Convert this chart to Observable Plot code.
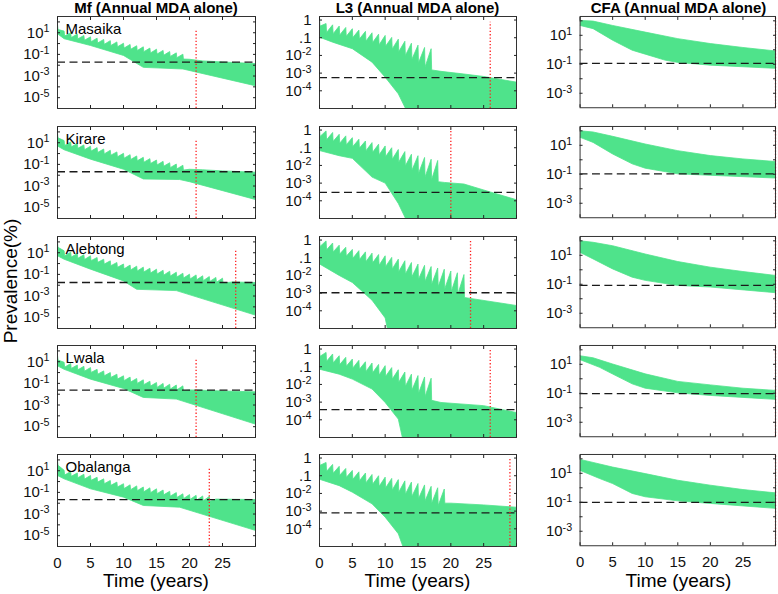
<!DOCTYPE html>
<html><head><meta charset="utf-8">
<script src="https://cdn.jsdelivr.net/npm/d3@7"></script>
<script src="https://cdn.jsdelivr.net/npm/@observablehq/plot@0.6"></script>
<style>
html,body{margin:0;padding:0;background:#fff;}
body{width:778px;height:594px;overflow:hidden;position:relative;font-family:"Liberation Sans",Arial,sans-serif;}
.lbl{position:absolute;white-space:nowrap;color:#000;line-height:1;}
.cell{position:absolute;}
</style></head><body>
<script>
// ---------------- data (log10 of prevalence % unless noted) ----------------
const sites = ["Masaika", "Kirare", "Alebtong", "Lwala", "Obalanga"];
const columnTitles = ["Mf (Annual MDA alone)", "L3 (Annual MDA alone)", "CFA (Annual MDA alone)"];
const xLabel = "Time (years)";
const yLabel = "Prevalence(%)";
const xTicks = [0, 5, 10, 15, 20, 25, 30];
const xTickLabels = ["0", "5", "10", "15", "20", "25", ""];

const mfDomain = [-6, 2.5];
const mfTicks = [2, 1, 0, -1, -2, -3, -4, -5];
const mfTickLabels = ["", "10^1", "", "10^-1", "", "10^-3", "", "10^-5"];
const l3Domain = [-5, 0.2];
const l3Ticks = [0, -1, -2, -3, -4];
const l3TickLabels = ["1", ".1", "10^-2", "10^-3", "10^-4"];
const cfaDomain = [-4, 2.3];
const cfaTicks = [2, 1, 0, -1, -2, -3];
const cfaTickLabels = ["", "10^1", "", "10^-1", "", "10^-3"];

// Mf: annual pre-MDA peaks (upper edge of the trajectory band), tooth depth, post-MDA upper edge, lower edge
const mfPeaks = [
  [1.75,1.15,1.0,0.88,0.75,0.62,0.5,0.38,0.27,0.15,0.03,-0.08,-0.2,-0.3,-0.42,-0.52,-0.63,-0.74,-0.86,-0.98],
  [1.9,1.2,1.07,0.93,0.8,0.68,0.55,0.42,0.3,0.15,0.02,-0.1,-0.22,-0.35,-0.47,-0.6,-0.72,-0.85,-0.97,-1.08],
  [1.95,1.18,1.05,0.93,0.82,0.72,0.56,0.4,0.25,0.1,-0.04,-0.14,-0.24,-0.33,-0.43,-0.52,-0.62,-0.71,-0.8,-0.89,-0.98,-1.05,-1.13,-1.2,-1.28,-1.35],
  [1.6,0.95,0.83,0.7,0.58,0.46,0.3,0.15,0.0,-0.15,-0.3,-0.42,-0.55,-0.67,-0.8,-0.92,-1.0,-1.08,-1.15,-1.23],
  [1.95,1.05,0.93,0.8,0.68,0.56,0.4,0.25,0.1,-0.05,-0.2,-0.3,-0.4,-0.5,-0.58,-0.67,-0.78,-0.9,-1.02,-1.13,-1.2,-1.27,-1.33,-1.38]
];
const mfToothDepth = [
  [0.45,0.45,0.45,0.45,0.45,0.45,0.45,0.45,0.45,0.45,0.45,0.45,0.45,0.45,0.45,0.45,0.45,0.45,0.45,0.45],
  [0.45,0.45,0.45,0.45,0.45,0.45,0.45,0.45,0.45,0.45,0.45,0.45,0.45,0.45,0.45,0.45,0.45,0.45,0.45,0.45],
  [0.45,0.45,0.45,0.45,0.45,0.45,0.45,0.45,0.45,0.45,0.45,0.45,0.45,0.45,0.45,0.45,0.45,0.45,0.45,0.45,0.45,0.45,0.45,0.45,0.45,0.45],
  [0.45,0.45,0.45,0.45,0.45,0.45,0.45,0.45,0.45,0.45,0.45,0.45,0.45,0.45,0.45,0.45,0.45,0.45,0.45,0.45],
  [0.45,0.45,0.45,0.45,0.45,0.45,0.45,0.45,0.45,0.45,0.45,0.45,0.45,0.45,0.45,0.45,0.45,0.45,0.45,0.45,0.45,0.45,0.45,0.45]
];
const mfTail = [
  [[20,-1.45],[22,-1.6],[25,-1.7],[30,-1.85]],
  [[20,-1.45],[22,-1.5],[25,-1.6],[30,-1.72]],
  [[26.5,-1.7],[30,-1.75]],
  [[20,-1.6],[25,-1.7],[30,-1.78]],
  [[24,-1.62],[30,-1.66]]
];
const mfLower = [
  [[0,0.9],[1,0.45],[5,-0.18],[10,-1.1],[13,-2.2],[19,-2.35],[30,-3.9]],
  [[0,0.7],[1,0.35],[5,-0.52],[10,-1.45],[13,-2.35],[18.5,-2.4],[20,-2.6],[30,-4.25]],
  [[0,0.72],[1,0.4],[5,-0.52],[10,-1.6],[12,-2.38],[18,-2.5],[30,-4.77]],
  [[0,0.62],[1,0.3],[5,-0.61],[10,-1.47],[13,-2.3],[18,-2.45],[30,-4.77]],
  [[0,0.56],[1,0.25],[5,-0.67],[10,-1.44],[13,-2.21],[18.5,-2.37],[30,-4.52]]
];
const mfThreshold = [-1.72, -1.68, -1.75, -1.63, -1.66];
const mfStopYear = [21, 21, 27, 21, 23];
const mfStopTop = [1.2, 1.18, 1.33, 1.23, 1.33];

// L3
const l3Peaks = [
  [0.16,-0.2,-0.27,-0.34,-0.42,-0.49,-0.57,-0.64,-0.72,-0.8,-0.87,-0.98,-1.08,-1.2,-1.31,-1.42,-1.55,-1.62],
  [0.14,-0.05,-0.14,-0.24,-0.33,-0.43,-0.52,-0.62,-0.71,-0.8,-0.9,-1.0,-1.1,-1.22,-1.37,-1.45,-1.55,-1.65,-1.72],
  [0.14,-0.05,-0.17,-0.29,-0.41,-0.53,-0.6,-0.67,-0.74,-0.82,-0.89,-0.98,-1.08,-1.17,-1.27,-1.36,-1.43,-1.5,-1.58,-1.65,-1.75,-1.85,-1.95],
  [0.09,-0.19,-0.28,-0.38,-0.47,-0.57,-0.64,-0.72,-0.79,-0.87,-0.94,-1.05,-1.17,-1.3,-1.42,-1.5,-1.58,-1.65],
  [0.09,-0.25,-0.36,-0.47,-0.59,-0.7,-0.78,-0.85,-0.93,-1.0,-1.08,-1.15,-1.22,-1.29,-1.36,-1.44,-1.52,-1.6,-1.68,-1.75]
];
const l3ToothDepth = [
  [0.5,0.5,0.5,0.5,0.5,0.5,0.5,0.55,0.55,0.6,0.6,0.65,0.7,0.8,0.9,1.0,1.1,1.2],
  [0.5,0.5,0.5,0.5,0.5,0.5,0.5,0.55,0.55,0.6,0.6,0.65,0.7,0.8,0.9,1.0,1.1,1.15,1.2],
  [0.5,0.5,0.5,0.5,0.5,0.5,0.5,0.55,0.55,0.6,0.6,0.65,0.7,0.75,0.8,0.85,0.9,1.0,1.05,1.1,1.15,1.2,1.3],
  [0.5,0.5,0.5,0.5,0.5,0.5,0.5,0.55,0.55,0.6,0.6,0.65,0.7,0.8,0.9,1.0,1.1,1.25],
  [0.5,0.5,0.5,0.5,0.5,0.5,0.5,0.55,0.55,0.6,0.6,0.65,0.7,0.75,0.8,0.85,0.9,0.95,1.0,0.8]
];
const l3Tail = [
  [[18.5,-2.9],[22,-3.05],[25,-3.19],[30,-3.51]],
  [[19,-2.96],[22,-3.05],[26,-3.5],[30,-3.94]],
  [[23,-3.3],[30,-3.7]],
  [[18.5,-3.02],[25,-3.2],[30,-3.59]],
  [[20,-2.55],[25,-2.65],[30,-2.78]]
];
const l3Lower = [
  [[0,-0.97],[2,-1.25],[5,-1.62],[8,-2.38],[10,-3.23],[12,-4.17],[13.5,-5.3],[30,-5.3]],
  [[0,-1.16],[3,-1.45],[5,-1.6],[8,-2.66],[10,-3.0],[12,-4.15],[13.5,-5.3],[30,-5.3]],
  [[0,-1.35],[3,-2.0],[5,-2.4],[8,-3.4],[10,-4.4],[10.5,-5.3],[30,-5.3]],
  [[0,-1.14],[3,-1.42],[5,-1.7],[8,-2.26],[10,-3.02],[12,-3.96],[12.8,-5.3],[30,-5.3]],
  [[0,-1.2],[3,-1.56],[5,-1.93],[8,-2.59],[10,-3.34],[12,-4.28],[13,-5.3],[30,-5.3]]
];
const l3Threshold = [-3.26, -3.52, -2.98, -3.43, -3.1];
const l3StopYear = [26, 20, 23, 26, 29];
const l3StopTop = [-0.12, 0.05, -0.05, 0, 0.03];

// CFA (smooth band)
const cfaUpper = [
  [[0,2.03],[2,1.98],[5,1.68],[10,1.22],[15,0.77],[20,0.43],[25,0.16],[30,-0.08]],
  [[0,2.0],[2,1.92],[5,1.62],[10,1.09],[15,0.63],[20,0.29],[25,0.06],[30,-0.12]],
  [[0,2.0],[2,1.9],[5,1.66],[10,1.09],[15,0.57],[20,0.18],[25,-0.12],[30,-0.39]],
  [[0,1.59],[2,1.45],[5,1.02],[10,0.34],[15,-0.18],[20,-0.42],[25,-0.65],[30,-0.8]],
  [[0,1.96],[2,1.75],[5,1.43],[10,0.98],[15,0.52],[20,0.18],[25,-0.12],[30,-0.35]]
];
const cfaLower = [
  [[0,1.68],[2,1.46],[5,0.66],[8,-0.03],[10,-0.3],[13,-0.71],[15,-0.87],[20,-1.06],[25,-1.17],[30,-1.28]],
  [[0,1.55],[2,1.2],[5,0.4],[8,-0.28],[10,-0.58],[15,-0.97],[20,-1.07],[30,-1.26]],
  [[0,1.2],[2,0.75],[5,0.06],[8,-0.51],[10,-0.73],[15,-1.08],[20,-1.19],[30,-1.58]],
  [[0,1.32],[3,0.79],[5,0.33],[8,-0.35],[10,-0.65],[15,-0.97],[20,-1.15],[30,-1.42]],
  [[0,1.2],[3,0.64],[5,0.29],[8,-0.39],[10,-0.62],[15,-0.9],[20,-1.08],[30,-1.42]]
];
const cfaThreshold = [-0.94, -0.97, -1.08, -1.03, -1.01];
const cfaStopYear = [30, 30, 30, 30, 30];
const cfaStopTop = [2.3, 2.3, 2.3, 2.3, 2.3];

// ---------------- layout / style ----------------
const FONT = '"Liberation Sans", Arial, Helvetica, sans-serif';
const GREEN = "#4fe38b";
const RED = "#ff2020";
const colLeft = [57, 319, 580];
const colWidth = [198, 197, 197];
const rowTop = [16, 126, 236, 345, 454];
const PH = 92;

const pow = e => Math.pow(10, e);
function sawBand(peaks, depths, tail, lower) {
  const up = [];
  peaks.forEach((p, k) => { up.push([k, p]); up.push([k + 0.08, p - depths[k]]); });
  tail.forEach(d => up.push(d));
  return up.concat(lower.slice().reverse()).map(([t, e]) => ({t, v: pow(e)}));
}
function smoothBand(upper, lower) {
  return upper.concat(lower.slice().reverse()).map(([t, e]) => ({t, v: pow(e)}));
}
function superscripts(svg) {
  svg.querySelectorAll("text").forEach(t => {
    const m = /^10\^(.+)$/.exec(t.textContent);
    if (!m) return;
    t.textContent = "10";
    const s = document.createElementNS("http://www.w3.org/2000/svg", "tspan");
    s.setAttribute("dy", "-0.5em");
    s.setAttribute("font-size", "0.72em");
    s.textContent = m[1];
    t.appendChild(s);
  });
}

function panel(col, row, poly, domainExp, ticksExp, tickLabels, thr, stopT, stopTop, label) {
  const isBottom = row === 4;
  const mL = 55, mR = 3, mT = 3, mB = isBottom ? 36 : 3;
  const yMin = pow(domainExp[0]), yMax = pow(domainExp[1]);
  const yt = ticksExp.map(pow);
  const ymap = new Map(yt.map((v, i) => [v, tickLabels[i]]));
  const xmap = new Map(xTicks.map((v, i) => [v, xTickLabels[i]]));
  const marks = [
    Plot.line(poly, {x: "t", y: "v", fill: GREEN, stroke: GREEN, strokeWidth: 0.8, curve: "linear", clip: true}),
    Plot.ruleY([pow(thr)], {stroke: "#1a1a1a", strokeWidth: 1.3, strokeDasharray: "8,4.5"}),
    Plot.ruleX([stopT], {x: d => d, y1: yMin, y2: pow(stopTop), stroke: RED, strokeWidth: 1.3, strokeDasharray: "1.3,2"}),
    Plot.frame({stroke: "#333", strokeWidth: 1}),
    Plot.axisX(xTicks, {anchor: "bottom", tickSize: -3, tickPadding: 14, label: null, fill: "#111",
      tickFormat: d => isBottom ? xmap.get(d) : ""}),
    Plot.axisX(xTicks, {anchor: "top", tickSize: -3, label: null, tickFormat: () => ""}),
    Plot.axisY(yt, {anchor: "left", tickSize: -3, tickPadding: 11, label: null, fill: "#111",
      tickFormat: d => ymap.get(d)}),
    Plot.axisY(yt, {anchor: "right", tickSize: -3, label: null, tickFormat: () => ""})
  ];
  if (label) marks.push(Plot.text([label], {text: d => d, frameAnchor: "top-left", dx: 8, dy: 7,
    lineAnchor: "top", textAnchor: "start", fontSize: 15, fill: "#000"}));
  const svg = Plot.plot({
    width: colWidth[col] + mL + mR, height: PH + mT + mB,
    marginLeft: mL, marginRight: mR, marginTop: mT, marginBottom: mB,
    style: {fontFamily: FONT, fontSize: "15px", background: "transparent", overflow: "visible", color: "#222"},
    x: {domain: [0, 30]},
    y: {type: "log", domain: [yMin, yMax]},
    marks
  });
  superscripts(svg);
  const div = document.createElement("div");
  div.className = "cell";
  div.style.left = (colLeft[col] - mL) + "px";
  div.style.top = (rowTop[row] - mT) + "px";
  div.appendChild(svg);
  document.body.appendChild(div);
}

sites.forEach((site, r) => {
  panel(0, r, sawBand(mfPeaks[r], mfToothDepth[r], mfTail[r], mfLower[r]), mfDomain, mfTicks, mfTickLabels,
    mfThreshold[r], mfStopYear[r], mfStopTop[r], site);
  panel(1, r, sawBand(l3Peaks[r], l3ToothDepth[r], l3Tail[r], l3Lower[r]), l3Domain, l3Ticks, l3TickLabels,
    l3Threshold[r], l3StopYear[r], l3StopTop[r], null);
  panel(2, r, smoothBand(cfaUpper[r], cfaLower[r]), cfaDomain, cfaTicks, cfaTickLabels,
    cfaThreshold[r], cfaStopYear[r], cfaStopTop[r], null);
});

function addLabel(text, css) {
  const d = document.createElement("div");
  d.className = "lbl";
  d.textContent = text;
  Object.assign(d.style, css);
  document.body.appendChild(d);
}
columnTitles.forEach((t, c) => addLabel(t, {left: (colLeft[c] + colWidth[c] / 2) + "px", top: "0px",
  transform: "translateX(-50%)", fontWeight: "bold", fontSize: "15px"}));
columnTitles.forEach((t, c) => addLabel(xLabel, {left: (colLeft[c] + colWidth[c] / 2) + "px", top: "571px",
  transform: "translateX(-50%)", fontSize: "19px"}));
addLabel(yLabel, {left: "10px", top: "281px", transform: "translate(-50%,-50%) rotate(-90deg)", fontSize: "19px"});
</script>
</body></html>
